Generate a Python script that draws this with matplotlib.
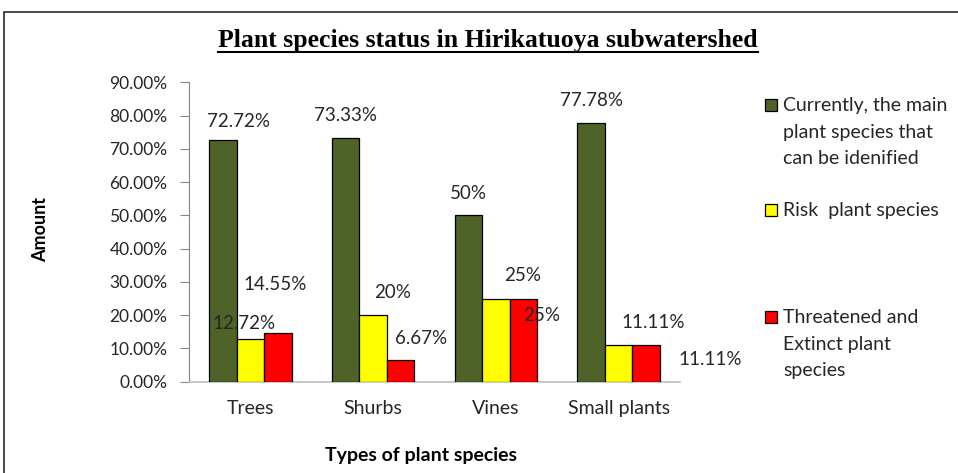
import matplotlib
matplotlib.use("Agg")
import matplotlib.pyplot as plt
import numpy as np
from matplotlib.patches import Rectangle
from matplotlib.lines import Line2D
from matplotlib.ticker import FuncFormatter

plt.rcParams['font.family'] = ['Lato', 'DejaVu Sans']

categories = ["Trees", "Shurbs", "Vines", "Small plants"]
series_names = ["Currently, the main\nplant species that\ncan be idenified",
                "Risk  plant species",
                "Threatened and\nExtinct plant\nspecies"]
current = [72.72, 73.33, 50, 77.78]
risk = [12.72, 20, 25, 11.11]
threatened = [14.55, 6.67, 25, 11.11]
yticks = [0, 10, 20, 30, 40, 50, 60, 70, 80, 90]

# hand-moved data label offsets (category units, percent units)
label_dx = [[0.13, 0.0, 0.0, 0.0],
            [-0.05, 0.155, 0.22, 0.28],
            [-0.02, 0.167, 0.15, 0.52]]
label_dy = [[5.6, 6.8, 6.7, 6.6],
            [4.9, 6.7, 6.8, 6.8],
            [14.8, 6.2, -5.2, -4.3]]

colors = ["#4F6228", "#FFFF00", "#FF0000"]
W, H = 958, 473

fig = plt.figure(figsize=(W / 100, H / 100), dpi=100)
fig.patch.set_facecolor("white")

# outer chart border
fig.add_artist(Rectangle((4 / W, -0.1), 1.1, (H - 12) / H + 0.1, transform=fig.transFigure,
                         fill=False, edgecolor="#3a3a3a", linewidth=1.3))

ax = fig.add_axes([189 / W, (H - 381.7) / H, (680 - 189) / W, (381.7 - 82.3) / H])
x = np.arange(len(categories))
w = 0.224
all_series = [current, risk, threatened]
for k, vals in enumerate(all_series):
    pos = x + (k - 1) * w
    ax.bar(pos, vals, width=w, color=colors[k], edgecolor="black", linewidth=0.9, zorder=3)
    for i, v in enumerate(vals):
        ax.text(pos[i] + label_dx[k][i], v + label_dy[k][i], f"{v:g}%",
                ha="center", va="center", fontsize=13.5, color="#262626", zorder=5)

ax.set_xlim(-0.5, len(categories) - 0.5)
ax.set_ylim(0, 90)
ax.set_yticks(yticks)
ax.yaxis.set_major_formatter(FuncFormatter(lambda v, p: f"{v:.2f}%"))
ax.set_xticks(x)
ax.set_xticklabels(categories)
ax.tick_params(axis="y", length=6.5, width=0.8, color="#868686", pad=9,
               labelsize=12.5, labelcolor="#262626")
ax.tick_params(axis="x", length=0, pad=13, labelsize=14, labelcolor="#262626")
for s in ["top", "right"]:
    ax.spines[s].set_visible(False)
ax.spines["left"].set_color("#868686")
ax.spines["bottom"].set_color("#BFBFBF")
ax.spines["left"].set_linewidth(0.8)
ax.spines["bottom"].set_linewidth(1.2)

# axis titles
fig.text(41 / W, 1 - 230 / H, "Amount", rotation=90, ha="center", va="center",
         fontsize=13, fontweight="bold", color="black")
fig.text(421 / W, 1 - 455 / H, "Types of plant species", ha="center", va="center",
         fontsize=14, fontweight="bold", color="black")

# title with underline
title = fig.text(488 / W, 1 - 40 / H, "Plant species status in Hirikatuoya subwatershed",
                 ha="center", va="center", fontsize=18.5, fontweight="bold",
                 family="Liberation Serif", color="black")
fig.canvas.draw()
bb = title.get_window_extent().transformed(fig.transFigure.inverted())
fig.add_artist(Line2D([bb.x0, bb.x1], [1 - 52 / H] * 2, transform=fig.transFigure,
                      color="black", linewidth=1.5))

# legend drawn by hand to keep Excel's uneven spacing
legend_y = [105, 210, 317]
for k, name in enumerate(series_names):
    yc = 1 - legend_y[k] / H
    fig.add_artist(Rectangle((765 / W, yc - 6 / H), 12 / W, 12 / H, transform=fig.transFigure,
                             facecolor=colors[k], edgecolor="black", linewidth=0.9))
    fig.text(783 / W, yc + 8 / H, name, ha="left", va="top", fontsize=14,
             linespacing=1.68, color="#262626")

fig.savefig("out.png", dpi=100)
